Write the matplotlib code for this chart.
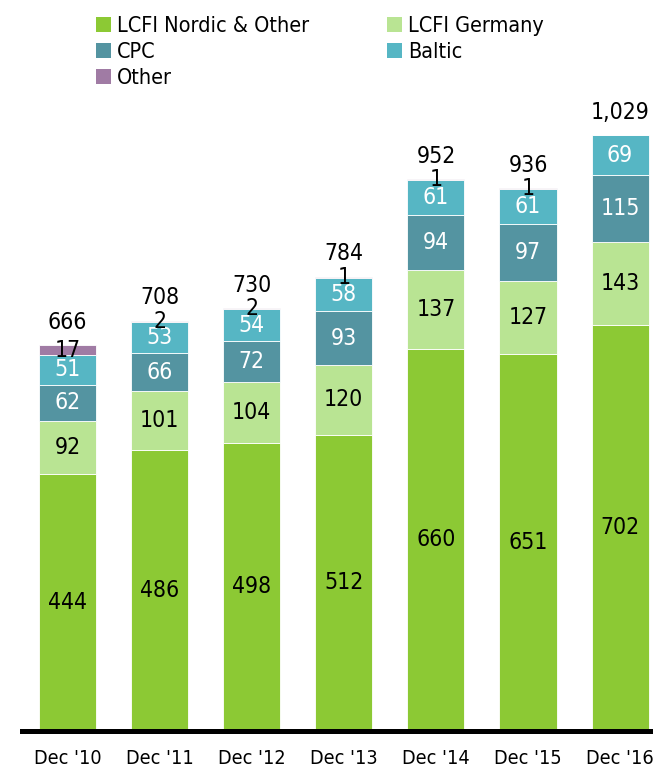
import numpy as np
import matplotlib.pyplot as plt
from matplotlib.patches import Patch

plt.rcParams['font.family'] = ['DejaVu Sans']
plt.rcParams['font.stretch'] = 'condensed'

years = ["Dec '10", "Dec '11", "Dec '12", "Dec '13", "Dec '14", "Dec '15", "Dec '16"]
nordic = [444, 486, 498, 512, 660, 651, 702]
germany = [92, 101, 104, 120, 137, 127, 143]
cpc = [62, 66, 72, 93, 94, 97, 115]
baltic = [51, 53, 54, 58, 61, 61, 69]
other = [17, 2, 2, 1, 1, 1, 0]
totals = [666, 708, 730, 784, 952, 936, 1029]

series = [
    ('LCFI Nordic & Other', nordic, '#8cc934', 'black'),
    ('LCFI Germany', germany, '#b9e493', 'black'),
    ('CPC', cpc, '#5494a1', 'white'),
    ('Baltic', baltic, '#56b6c4', 'white'),
    ('Other', other, '#a07ba4', 'black'),
]

W, H = 653, 771
fig = plt.figure(figsize=(W / 100, H / 100), dpi=100)
base_px = 731
ax = fig.add_axes([22 / W, (H - base_px) / H, 1 - 22 / W, base_px / H])

x = np.arange(len(years))
bottom = np.zeros(len(years))
for name, vals, color, tcolor in series:
    vals = np.array(vals, dtype=float)
    ax.bar(x, vals, width=0.62, bottom=bottom, color=color,
           edgecolor='white', linewidth=0.6, zorder=2)
    for xi, b, v in zip(x, bottom, vals):
        if v > 0:
            ax.text(xi, b + v / 2, f'{int(v)}', ha='center', va='center',
                    color=tcolor, fontsize=16.5, zorder=3)
    bottom += vals

for xi, t, top in zip(x, totals, bottom):
    ax.text(xi, top + 40, f'{t:,}', ha='center', va='center',
            fontsize=16.5, color='black')

ax.set_xlim(-0.494, 6.357)
ax.set_ylim(0, base_px / 0.579)
ax.set_xticks(x)
ax.set_xticklabels(years, fontsize=14.2)
ax.tick_params(axis='x', length=0, pad=13)
ax.set_yticks([])
for side in ['top', 'right', 'left']:
    ax.spines[side].set_visible(False)
ax.spines['bottom'].set_linewidth(3.6)
ax.spines['bottom'].set_zorder(4)
ax.patch.set_visible(False)

# legend: rows read Nordic/Germany, CPC/Baltic, Other (filled column-wise)
handles = [Patch(facecolor=c, edgecolor='none', label=n) for n, _, c, _ in series]
order = [0, 2, 4, 1, 3]
fig.legend([handles[i] for i in order], [series[i][0] for i in order],
           ncol=2, loc='upper left', bbox_to_anchor=(87 / W, 1 - 7 / H),
           frameon=False, fontsize=15.5, handlelength=0.7, handleheight=0.7,
           handletextpad=0.3, columnspacing=3.6, labelspacing=0.28,
           borderaxespad=0)

fig.savefig('out.png', dpi=100)
